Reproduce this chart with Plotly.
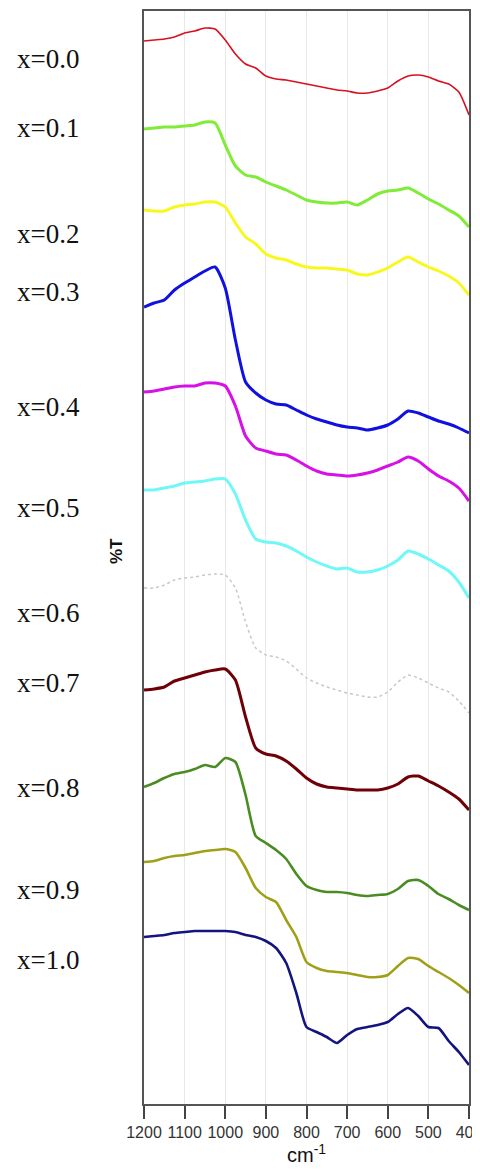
import plotly.graph_objects as go

wavenumber = [1200, 1175, 1150, 1125, 1100, 1075, 1050, 1025, 1000, 975, 950, 925, 900, 875, 850,
              825, 800, 775, 750, 725, 700, 675, 650, 625, 600, 575, 550, 525, 500, 475, 450, 425, 400]

sample_labels = ["x=0.0", "x=0.1", "x=0.2", "x=0.3", "x=0.4", "x=0.5",
                 "x=0.6", "x=0.7", "x=0.8", "x=0.9", "x=1.0"]

t_x00 = [106.3, 106.4, 106.5, 106.7, 107.1, 107.3, 107.6, 107.5, 106.4, 105.0, 104.0, 103.6, 102.8, 102.5, 102.4, 102.2, 102.0,
         101.8, 101.6, 101.4, 101.3, 101.1, 101.1, 101.3, 101.6, 102.3, 102.8, 102.9, 102.7, 102.3, 102.0, 101.2, 98.9]
t_x01 = [97.5, 97.6, 97.7, 97.7, 97.8, 97.9, 98.2, 98.1, 95.9, 93.8, 92.9, 92.7, 92.2, 91.8, 91.4, 90.9, 90.4,
         90.2, 90.1, 90.1, 90.2, 89.9, 90.4, 91.0, 91.3, 91.4, 91.6, 91.1, 90.5, 90.0, 89.4, 88.8, 87.7]
t_x02 = [89.4, 89.3, 89.3, 89.7, 89.9, 90.0, 90.2, 90.2, 89.7, 88.1, 86.7, 86.0, 85.0, 84.6, 84.4, 84.0, 83.7,
         83.6, 83.6, 83.5, 83.4, 83.0, 82.9, 83.2, 83.6, 84.2, 84.7, 84.2, 83.7, 83.3, 82.8, 82.1, 80.9]
t_x03 = [79.7, 80.1, 80.4, 81.4, 82.1, 82.7, 83.3, 83.7, 81.6, 76.4, 72.2, 71.1, 70.4, 70.0, 69.9, 69.4, 68.9,
         68.5, 68.2, 67.9, 67.7, 67.6, 67.4, 67.6, 67.9, 68.5, 69.3, 69.1, 68.7, 68.3, 68.0, 67.6, 67.1]
t_x04 = [71.2, 71.3, 71.5, 71.7, 71.8, 71.8, 72.1, 72.1, 71.8, 69.8, 66.8, 65.6, 65.3, 65.0, 64.9, 64.4, 63.8,
         63.3, 63.0, 62.9, 62.8, 62.9, 63.1, 63.4, 63.8, 64.2, 64.7, 64.3, 63.5, 62.8, 62.3, 61.6, 60.3]
t_x05 = [61.4, 61.4, 61.6, 61.8, 62.1, 62.2, 62.3, 62.5, 62.5, 61.0, 58.4, 56.5, 56.2, 56.1, 55.8, 55.3, 54.7,
         54.2, 53.8, 53.5, 53.6, 53.2, 53.2, 53.4, 53.8, 54.4, 55.3, 55.0, 54.5, 53.9, 53.3, 52.2, 50.6]
t_x06 = [51.6, 51.6, 51.9, 52.4, 52.6, 52.7, 52.9, 53.0, 52.9, 51.6, 48.2, 45.6, 44.9, 44.7, 44.3, 43.5, 42.6,
         42.1, 41.7, 41.4, 41.1, 40.9, 40.7, 40.7, 41.2, 42.2, 42.9, 42.6, 42.1, 41.6, 41.2, 40.3, 39.1]
t_x07 = [41.4, 41.5, 41.7, 42.3, 42.6, 42.9, 43.2, 43.4, 43.5, 42.4, 38.7, 35.6, 35.0, 34.8, 34.3, 33.5, 32.6,
         32.0, 31.7, 31.6, 31.5, 31.4, 31.4, 31.4, 31.6, 32.0, 32.7, 32.8, 32.3, 31.8, 31.2, 30.5, 29.4]
t_x08 = [31.7, 32.1, 32.6, 33.0, 33.2, 33.5, 33.9, 33.7, 34.6, 34.2, 30.9, 26.8, 26.1, 25.4, 24.5, 23.0, 21.8,
         21.4, 21.2, 21.2, 21.1, 20.9, 20.8, 20.9, 21.0, 21.5, 22.3, 22.4, 21.8, 21.0, 20.5, 19.9, 19.4]
t_x09 = [24.2, 24.3, 24.6, 24.8, 24.9, 25.1, 25.3, 25.4, 25.5, 25.2, 23.6, 21.6, 20.7, 20.2, 18.4, 16.7, 14.2,
         13.6, 13.3, 13.2, 13.1, 12.9, 12.7, 12.7, 12.9, 13.8, 14.6, 14.5, 13.8, 13.2, 12.6, 11.9, 11.1]
t_x10 = [16.7, 16.8, 16.9, 17.1, 17.2, 17.3, 17.3, 17.3, 17.3, 17.2, 16.9, 16.7, 16.3, 15.6, 14.1, 11.1, 7.7,
         7.2, 6.7, 6.1, 6.9, 7.5, 7.7, 7.9, 8.2, 9.0, 9.6, 8.8, 7.7, 7.6, 6.3, 5.2, 3.9]

series = [t_x00, t_x01, t_x02, t_x03, t_x04, t_x05, t_x06, t_x07, t_x08, t_x09, t_x10]

label_y = [104.5, 97.6, 87.0, 81.2, 69.7, 59.6, 49.1, 42.1, 31.6, 21.4, 14.4]

colors = ["#d81020", "#80ec38", "#f8f820", "#1010e0", "#d810e8", "#70f8f8",
          "#c8c8c8", "#700008", "#4a8c22", "#a0a018", "#141480"]
widths = [1.6, 3, 3, 3, 3, 3, 1.5, 3, 2.6, 2.6, 2.6]
dashes = ["solid"] * 6 + ["dot"] + ["solid"] * 4

fig = go.Figure()
for name, vals, c, w, d in zip(sample_labels, series, colors, widths, dashes):
    fig.add_trace(go.Scatter(x=wavenumber, y=vals, mode="lines", name=name,
                             line=dict(color=c, width=w, dash=d, shape="spline", smoothing=0.6)))

annotations = []
for name, ly in zip(sample_labels, label_y):
    annotations.append(dict(x=-0.397, xref="paper", y=ly, yref="y", text=name, showarrow=False,
                            xanchor="left", yanchor="middle",
                            font=dict(family="Liberation Serif, Times New Roman, serif", size=27, color="#111")))
annotations.append(dict(x=-0.086, xref="paper", y=55.3, yref="y", text="<b>%T</b>", showarrow=False,
                        textangle=-90, xanchor="center", yanchor="middle",
                        font=dict(family="Liberation Sans, Arial, sans-serif", size=17, color="#111")))
annotations.append(dict(x=0.5, xref="paper", y=-0.0455, yref="paper", text="cm<sup>-1</sup>", showarrow=False,
                        xanchor="center", yanchor="middle",
                        font=dict(family="Liberation Sans, Arial, sans-serif", size=20, color="#111")))

# page body has an 8px margin: size the figure so it fits the 480x1173 window
fig.update_layout(
    width=464, height=1157,
    margin=dict(l=136, r=3, t=3, b=61, autoexpand=False),
    plot_bgcolor="white", paper_bgcolor="white",
    showlegend=False,
    annotations=annotations,
    xaxis=dict(range=[1200, 400], tickvals=list(range(1200, 399, -100)),
               ticks="outside", ticklen=13, tickwidth=2, tickcolor="#444",
               ticklabeloverflow="allow", automargin=False,
               showline=True, linecolor="#555", linewidth=2, mirror=True,
               showgrid=True, gridcolor="#e8e8e8", gridwidth=1, zeroline=False,
               tickfont=dict(family="Liberation Sans, Arial, sans-serif", size=16, color="#333")),
    yaxis=dict(range=[0, 109.3], showticklabels=False, ticks="", showgrid=False, zeroline=False,
               automargin=False,
               showline=True, linecolor="#555", linewidth=2, mirror=True),
)

fig.write_html("out.html")
